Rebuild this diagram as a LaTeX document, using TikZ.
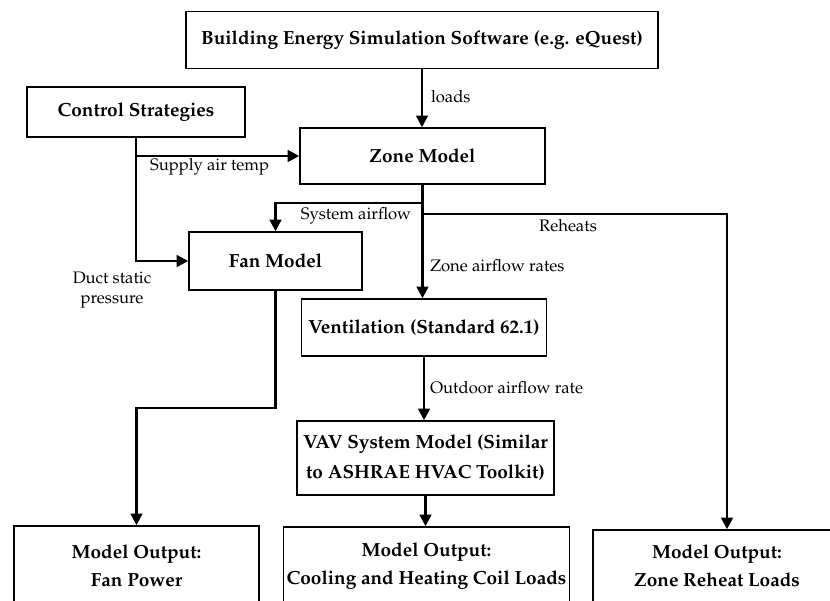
\documentclass[tikz,border=0pt]{standalone}
\usepackage[T1]{fontenc}
\usepackage{mathpazo}
\usepackage{tikz}
\usetikzlibrary{arrows.meta, calc}

\tikzset{
  block/.style={draw, line width=0.9pt, font=\bfseries\fontsize{11.4}{17}\selectfont, align=center, inner sep=2pt},
  flow/.style={line width=1.5pt, -{Triangle[width=7pt,length=7pt]}},
  lbl/.style={font=\normalsize, inner sep=1pt},
}

\begin{document}
\begin{tikzpicture}
\begin{scope}[x=0.6pt, y=-0.6pt]
\useasboundingbox (0,0) rectangle (830,600);
\clip (0,0) rectangle (830,600);

\node[block, minimum width=472*0.6pt, minimum height=57*0.6pt] (sim) at (422,40) {Building Energy Simulation Software (e.g. eQuest)};
\node[block, minimum width=218*0.6pt, minimum height=50*0.6pt] (ctrl) at (136,112) {Control Strategies};
\node[block, minimum width=245*0.6pt, minimum height=56*0.6pt] (zone) at (422.5,156) {Zone Model};
\node[block, minimum width=173*0.6pt, minimum height=58*0.6pt] (fan) at (275.5,261) {Fan Model};
\node[block, minimum width=245*0.6pt, minimum height=57*0.6pt] (vent) at (424,327.5) {Ventilation (Standard 62.1)};
\node[block, minimum width=257*0.6pt, minimum height=74*0.6pt, font=\bfseries\fontsize{11.4}{18}\selectfont] (vav) at (425.5,458) {VAV System Model (Similar\\to ASHRAE HVAC Toolkit)};
\node[block, minimum width=245*0.6pt, minimum height=80*0.6pt] (outfan) at (136.5,566) {Model Output:\\Fan Power};
\node[block, minimum width=285*0.6pt, minimum height=78*0.6pt] (outcoil) at (426.5,566) {Model Output:\\Cooling and Heating Coil Loads};
\node[block, minimum width=248*0.6pt, minimum height=72*0.6pt] (outreheat) at (717,566) {Model Output:\\Zone Reheat Loads};

% loads into the zone model
\draw[flow] (sim.south) -- (sim.south |- zone.north);
\node[lbl, anchor=west] (tloads) at (429,97) {loads};

% control strategies
\coordinate (ctrlfork) at (ctrl.south |- zone.west);
\draw[flow] (ctrl.south) |- (fan.west);
\draw[flow] (ctrlfork) -- (zone.west);
\node[lbl, anchor=west] (tsupply) at (148,167) {Supply air temp};
\node[lbl, align=center] (tduct) at (112,290) {Duct static\\pressure};

% zone model outputs
\coordinate (sysfork) at ($(zone.south)+(0,18)$);
\coordinate (rhfork) at ($(zone.south)+(0,29)$);
\coordinate (rhdrop) at ($(outreheat.north)+(10,0)$);
\draw[flow] (zone.south) -- (zone.south |- vent.north);
\draw[flow] (sysfork) -| (fan.north);
\draw[flow] (rhfork) -| (rhdrop);
\node[lbl] (tsys) at (356,216) {System airflow};
\node[lbl] (treheat) at (568,226) {Reheats};
\node[lbl, anchor=west] (tzone) at (428,266) {Zone airflow rates};

% ventilation and system
\draw[flow] (vent.south) -- (vent.south |- vav.north);
\node[lbl, anchor=west] (toutdoor) at (428,388) {Outdoor airflow rate};
\draw[flow] (vav.south) -- (vav.south |- outcoil.north);

% fan power
\coordinate (fanbend) at ($(fan.south)+(0,117)$);
\draw[flow] (fan.south) -- (fanbend) -| (outfan.north);
\end{scope}
\end{tikzpicture}
\end{document}
